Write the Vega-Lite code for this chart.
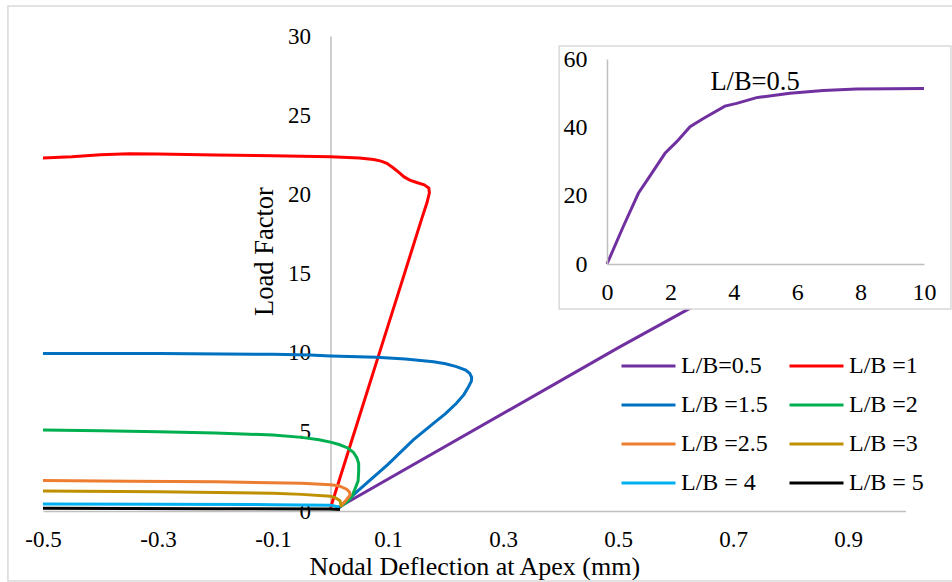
{
  "$schema": "https://vega.github.io/schema/vega-lite/v6.json",
  "width": 862.5,
  "height": 475,
  "autosize": "none",
  "padding": {"left": 43, "top": 36, "right": 46.5, "bottom": 71},
  "background": "white",
  "config": {
    "view": {"stroke": null},
    "font": "Liberation Serif",
    "axis": {"grid": false, "ticks": false, "tickSize": 0, "domainColor": "#bfbfbf", "domainWidth": 1.5, "labelColor": "#000", "titleColor": "#000", "labelFont": "Liberation Serif", "titleFont": "Liberation Serif", "titleFontWeight": "normal", "labelFlush": false, "labelOverlap": false},
    "legend": {"labelFont": "Liberation Serif", "labelColor": "#000"},
    "text": {"font": "Liberation Serif"}
  },
  "datasets": {
    "curves": [
      {"s": "L/B=0.5", "i": 0, "x": 0.015, "y": 0.25},
      {"s": "L/B=0.5", "i": 1, "x": 0.5, "y": 10.3},
      {"s": "L/B=0.5", "i": 2, "x": 1.0, "y": 20.3},

      {"s": "L/B =1", "i": 0, "x": 0.0, "y": 0.2},
      {"s": "L/B =1", "i": 1, "x": 0.04, "y": 4.8},
      {"s": "L/B =1", "i": 2, "x": 0.08, "y": 9.4},
      {"s": "L/B =1", "i": 3, "x": 0.12, "y": 14.0},
      {"s": "L/B =1", "i": 4, "x": 0.159, "y": 18.5},
      {"s": "L/B =1", "i": 5, "x": 0.168, "y": 19.5},
      {"s": "L/B =1", "i": 6, "x": 0.172, "y": 20.1},
      {"s": "L/B =1", "i": 7, "x": 0.171, "y": 20.4},
      {"s": "L/B =1", "i": 8, "x": 0.163, "y": 20.6},
      {"s": "L/B =1", "i": 9, "x": 0.15, "y": 20.75},
      {"s": "L/B =1", "i": 10, "x": 0.138, "y": 20.9},
      {"s": "L/B =1", "i": 11, "x": 0.128, "y": 21.1},
      {"s": "L/B =1", "i": 12, "x": 0.121, "y": 21.33},
      {"s": "L/B =1", "i": 13, "x": 0.11, "y": 21.65},
      {"s": "L/B =1", "i": 14, "x": 0.098, "y": 21.96},
      {"s": "L/B =1", "i": 15, "x": 0.088, "y": 22.1},
      {"s": "L/B =1", "i": 16, "x": 0.075, "y": 22.2},
      {"s": "L/B =1", "i": 17, "x": 0.05, "y": 22.3},
      {"s": "L/B =1", "i": 18, "x": 0.0, "y": 22.38},
      {"s": "L/B =1", "i": 19, "x": -0.1, "y": 22.43},
      {"s": "L/B =1", "i": 20, "x": -0.2, "y": 22.48},
      {"s": "L/B =1", "i": 21, "x": -0.3, "y": 22.55},
      {"s": "L/B =1", "i": 22, "x": -0.35, "y": 22.56},
      {"s": "L/B =1", "i": 23, "x": -0.4, "y": 22.5},
      {"s": "L/B =1", "i": 24, "x": -0.45, "y": 22.37},
      {"s": "L/B =1", "i": 25, "x": -0.5, "y": 22.3},

      {"s": "L/B =1.5", "i": 0, "x": 0.015, "y": 0.2},
      {"s": "L/B =1.5", "i": 1, "x": 0.05, "y": 1.35},
      {"s": "L/B =1.5", "i": 2, "x": 0.1, "y": 2.95},
      {"s": "L/B =1.5", "i": 3, "x": 0.144, "y": 4.49},
      {"s": "L/B =1.5", "i": 4, "x": 0.179, "y": 5.54},
      {"s": "L/B =1.5", "i": 5, "x": 0.2, "y": 6.15},
      {"s": "L/B =1.5", "i": 6, "x": 0.219, "y": 6.8},
      {"s": "L/B =1.5", "i": 7, "x": 0.232, "y": 7.35},
      {"s": "L/B =1.5", "i": 8, "x": 0.24, "y": 7.85},
      {"s": "L/B =1.5", "i": 9, "x": 0.245, "y": 8.2},
      {"s": "L/B =1.5", "i": 10, "x": 0.2455, "y": 8.45},
      {"s": "L/B =1.5", "i": 11, "x": 0.242, "y": 8.7},
      {"s": "L/B =1.5", "i": 12, "x": 0.235, "y": 8.9},
      {"s": "L/B =1.5", "i": 13, "x": 0.219, "y": 9.12},
      {"s": "L/B =1.5", "i": 14, "x": 0.2, "y": 9.3},
      {"s": "L/B =1.5", "i": 15, "x": 0.179, "y": 9.43},
      {"s": "L/B =1.5", "i": 16, "x": 0.13, "y": 9.6},
      {"s": "L/B =1.5", "i": 17, "x": 0.08, "y": 9.71},
      {"s": "L/B =1.5", "i": 18, "x": 0.0, "y": 9.79},
      {"s": "L/B =1.5", "i": 19, "x": -0.036, "y": 9.85},
      {"s": "L/B =1.5", "i": 20, "x": -0.1, "y": 9.9},
      {"s": "L/B =1.5", "i": 21, "x": -0.3, "y": 9.94},
      {"s": "L/B =1.5", "i": 22, "x": -0.5, "y": 9.95},

      {"s": "L/B =2", "i": 0, "x": 0.017, "y": 0.27},
      {"s": "L/B =2", "i": 1, "x": 0.03, "y": 0.6},
      {"s": "L/B =2", "i": 2, "x": 0.037, "y": 0.9},
      {"s": "L/B =2", "i": 3, "x": 0.043, "y": 1.43},
      {"s": "L/B =2", "i": 4, "x": 0.048, "y": 1.9},
      {"s": "L/B =2", "i": 5, "x": 0.049, "y": 2.5},
      {"s": "L/B =2", "i": 6, "x": 0.049, "y": 3.0},
      {"s": "L/B =2", "i": 7, "x": 0.046, "y": 3.35},
      {"s": "L/B =2", "i": 8, "x": 0.04, "y": 3.7},
      {"s": "L/B =2", "i": 9, "x": 0.03, "y": 3.98},
      {"s": "L/B =2", "i": 10, "x": 0.015, "y": 4.2},
      {"s": "L/B =2", "i": 11, "x": 0.0, "y": 4.35},
      {"s": "L/B =2", "i": 12, "x": -0.02, "y": 4.5},
      {"s": "L/B =2", "i": 13, "x": -0.05, "y": 4.65},
      {"s": "L/B =2", "i": 14, "x": -0.1, "y": 4.8},
      {"s": "L/B =2", "i": 15, "x": -0.2, "y": 4.93},
      {"s": "L/B =2", "i": 16, "x": -0.3, "y": 5.0},
      {"s": "L/B =2", "i": 17, "x": -0.4, "y": 5.07},
      {"s": "L/B =2", "i": 18, "x": -0.5, "y": 5.12},

      {"s": "L/B =2.5", "i": 0, "x": 0.0165, "y": 0.27},
      {"s": "L/B =2.5", "i": 1, "x": 0.025, "y": 0.59},
      {"s": "L/B =2.5", "i": 2, "x": 0.034, "y": 1.0},
      {"s": "L/B =2.5", "i": 3, "x": 0.033, "y": 1.2},
      {"s": "L/B =2.5", "i": 4, "x": 0.028, "y": 1.38},
      {"s": "L/B =2.5", "i": 5, "x": 0.014, "y": 1.6},
      {"s": "L/B =2.5", "i": 6, "x": 0.0, "y": 1.66},
      {"s": "L/B =2.5", "i": 7, "x": -0.05, "y": 1.75},
      {"s": "L/B =2.5", "i": 8, "x": -0.2, "y": 1.84},
      {"s": "L/B =2.5", "i": 9, "x": -0.35, "y": 1.88},
      {"s": "L/B =2.5", "i": 10, "x": -0.5, "y": 1.92},

      {"s": "L/B =3", "i": 0, "x": 0.019, "y": 0.27},
      {"s": "L/B =3", "i": 1, "x": 0.0165, "y": 0.65},
      {"s": "L/B =3", "i": 2, "x": 0.008, "y": 0.85},
      {"s": "L/B =3", "i": 3, "x": 0.0, "y": 0.93},
      {"s": "L/B =3", "i": 4, "x": -0.05, "y": 1.05},
      {"s": "L/B =3", "i": 5, "x": -0.1, "y": 1.12},
      {"s": "L/B =3", "i": 6, "x": -0.3, "y": 1.22},
      {"s": "L/B =3", "i": 7, "x": -0.5, "y": 1.26},

      {"s": "L/B = 4", "i": 0, "x": 0.015, "y": 0.25},
      {"s": "L/B = 4", "i": 1, "x": 0.0, "y": 0.37},
      {"s": "L/B = 4", "i": 2, "x": -0.1, "y": 0.4},
      {"s": "L/B = 4", "i": 3, "x": -0.3, "y": 0.42},
      {"s": "L/B = 4", "i": 4, "x": -0.5, "y": 0.44},

      {"s": "L/B = 5", "i": 0, "x": 0.0165, "y": 0.1},
      {"s": "L/B = 5", "i": 1, "x": 0.0, "y": 0.12},
      {"s": "L/B = 5", "i": 2, "x": -0.2, "y": 0.15},
      {"s": "L/B = 5", "i": 3, "x": -0.5, "y": 0.17}
    ],
    "inset": [
      {"i": 0, "x": 0, "y": 0},
      {"i": 1, "x": 0.51, "y": 10.9},
      {"i": 2, "x": 0.99, "y": 20.7},
      {"i": 3, "x": 1.41, "y": 26.5},
      {"i": 4, "x": 1.83, "y": 32.4},
      {"i": 5, "x": 2.2, "y": 35.8},
      {"i": 6, "x": 2.62, "y": 40.2},
      {"i": 7, "x": 3.04, "y": 42.6},
      {"i": 8, "x": 3.72, "y": 46.2},
      {"i": 9, "x": 4.09, "y": 47.0},
      {"i": 10, "x": 4.72, "y": 48.7},
      {"i": 11, "x": 5.77, "y": 50.0},
      {"i": 12, "x": 6.82, "y": 50.8},
      {"i": 13, "x": 7.87, "y": 51.2},
      {"i": 14, "x": 10.0, "y": 51.4}
    ]
  },
  "layer": [
    {
      "layer": [
        {
          "data": {"values": [{}]},
          "mark": {"type": "rect", "fill": null, "stroke": "#d9d9d9", "strokeWidth": 1.5, "clip": false},
          "encoding": {
            "x": {"datum": -0.561, "type": "quantitative", "scale": {"domain": [-0.5, 1.0], "nice": false, "zero": false},
              "axis": {"values": [-0.5, -0.3, -0.1, 0.1, 0.3, 0.5, 0.7, 0.9], "labelExpr": "'' + datum.value", "labelFont": "Liberation Serif", "labelBaseline": "alphabetic", "labelPadding": 35, "labelFontSize": 23, "title": "Nodal Deflection at Apex (mm)", "titleFont": "Liberation Serif", "titleFontSize": 26, "titleBaseline": "alphabetic", "titleY": 63}},
            "x2": {"datum": 1.1},
            "y": {"datum": 31.9, "type": "quantitative", "scale": {"domain": [0, 30], "nice": false, "zero": false},
              "axis": {"values": [0, 5, 10, 15, 20, 25, 30], "offset": -287.5, "labelFont": "Liberation Serif", "labelPadding": 20, "labelFontSize": 23, "title": "Load Factor", "titleFont": "Liberation Serif", "titleFontSize": 26.5, "titleAngle": -90, "titleX": -66, "titleY": 215, "titleBaseline": "middle", "titleAlign": "center"}},
            "y2": {"datum": -4.42}
          }
        },
        {
          "data": {"name": "curves"},
          "mark": {"type": "line"},
          "encoding": {
            "x": {
              "field": "x", "type": "quantitative",
              "scale": {"domain": [-0.5, 1.0], "nice": false, "zero": false},
              "axis": {"values": [-0.5, -0.3, -0.1, 0.1, 0.3, 0.5, 0.7, 0.9], "labelExpr": "'' + datum.value", "labelFont": "Liberation Serif", "labelBaseline": "alphabetic", "labelPadding": 35, "labelFontSize": 23, "title": "Nodal Deflection at Apex (mm)", "titleFont": "Liberation Serif", "titleFontSize": 26, "titleBaseline": "alphabetic", "titleY": 63}
            },
            "y": {
              "field": "y", "type": "quantitative",
              "scale": {"domain": [0, 30], "nice": false, "zero": false},
              "axis": {"values": [0, 5, 10, 15, 20, 25, 30], "offset": -287.5, "labelFont": "Liberation Serif", "labelPadding": 20, "labelFontSize": 23, "title": "Load Factor", "titleFont": "Liberation Serif", "titleFontSize": 26.5, "titleAngle": -90, "titleX": -66, "titleY": 215, "titleBaseline": "middle", "titleAlign": "center"}
            },
            "color": {
              "field": "s", "type": "nominal",
              "scale": {"domain": ["L/B=0.5", "L/B =1", "L/B =1.5", "L/B =2", "L/B =2.5", "L/B =3", "L/B = 4", "L/B = 5"], "range": ["#7030A0", "#FF0000", "#0070C0", "#00B050", "#ED7D31", "#BF9000", "#00B0F0", "#000000"]},
              "legend": {"orient": "none", "legendX": 577, "legendY": 316, "direction": "horizontal", "columns": 2, "symbolType": "stroke", "symbolSize": 2916, "symbolStrokeWidth": 4, "labelFontSize": 24, "labelFont": "Liberation Serif", "labelColor": "#000", "title": null, "clipHeight": 28, "rowPadding": 11, "columnPadding": 20, "labelOffset": 4, "padding": 0}
            },
            "strokeWidth": {
              "field": "s", "type": "nominal",
              "scale": {"domain": ["L/B=0.5", "L/B =1", "L/B =1.5", "L/B =2", "L/B =2.5", "L/B =3", "L/B = 4", "L/B = 5"], "range": [3, 3, 3, 3, 3, 3, 3, 4.5]},
              "legend": null
            },
            "order": {"field": "i", "type": "quantitative"}
          }
        }
      ]
    },
    {
      "layer": [
        {
          "data": {"values": [{}]},
          "mark": {"type": "rect", "fill": "white", "stroke": "#d9d9d9", "strokeWidth": 1.5, "clip": false},
          "encoding": {
            "x": {"datum": -1.51, "type": "quantitative", "scale": {"domain": [0, 10], "range": [564, 881], "nice": false, "zero": false},
              "axis": {"orient": "bottom", "offset": -247, "values": [0, 2, 4, 6, 8, 10], "labelFont": "Liberation Serif", "labelPadding": 28, "labelBaseline": "middle", "labelFontSize": 24, "title": null, "zindex": 1}},
            "x2": {"datum": 10.85},
            "y": {"datum": 63.8, "type": "quantitative", "scale": {"domain": [0, 60], "range": [228, 23], "nice": false, "zero": false},
              "axis": {"orient": "left", "offset": -564, "values": [0, 20, 40, 60], "labelFont": "Liberation Serif", "labelPadding": 20, "labelFontSize": 24, "title": null, "zindex": 1}},
            "y2": {"datum": -13.2}
          }
        },
        {
          "data": {"name": "inset"},
          "mark": {"type": "line", "strokeWidth": 3, "color": "#7030A0", "clip": false},
          "encoding": {
            "x": {"field": "x", "type": "quantitative", "scale": {"domain": [0, 10], "range": [564, 881], "nice": false, "zero": false},
              "axis": {"orient": "bottom", "offset": -247, "values": [0, 2, 4, 6, 8, 10], "labelFont": "Liberation Serif", "labelPadding": 28, "labelBaseline": "middle", "labelFontSize": 24, "title": null, "zindex": 1}},
            "y": {"field": "y", "type": "quantitative", "scale": {"domain": [0, 60], "range": [228, 23], "nice": false, "zero": false},
              "axis": {"orient": "left", "offset": -564, "values": [0, 20, 40, 60], "labelFont": "Liberation Serif", "labelPadding": 20, "labelFontSize": 24, "title": null, "zindex": 1}},
            "order": {"field": "i", "type": "quantitative"}
          }
        },
        {
          "data": {"values": [{}]},
          "mark": {"type": "text", "fontSize": 26.5, "font": "Liberation Serif", "color": "#000", "baseline": "middle", "align": "center"},
          "encoding": {
            "x": {"datum": 4.67, "type": "quantitative", "scale": {"domain": [0, 10], "range": [564, 881], "nice": false, "zero": false},
              "axis": {"orient": "bottom", "offset": -247, "values": [0, 2, 4, 6, 8, 10], "labelFont": "Liberation Serif", "labelPadding": 28, "labelBaseline": "middle", "labelFontSize": 24, "title": null, "zindex": 1}},
            "y": {"datum": 53.3, "type": "quantitative", "scale": {"domain": [0, 60], "range": [228, 23], "nice": false, "zero": false},
              "axis": {"orient": "left", "offset": -564, "values": [0, 20, 40, 60], "labelFont": "Liberation Serif", "labelPadding": 20, "labelFontSize": 24, "title": null, "zindex": 1}},
            "text": {"datum": "L/B=0.5"}
          }
        }
      ]
    }
  ],
  "resolve": {"scale": {"x": "independent", "y": "independent", "color": "independent", "strokeWidth": "independent"}}
}
